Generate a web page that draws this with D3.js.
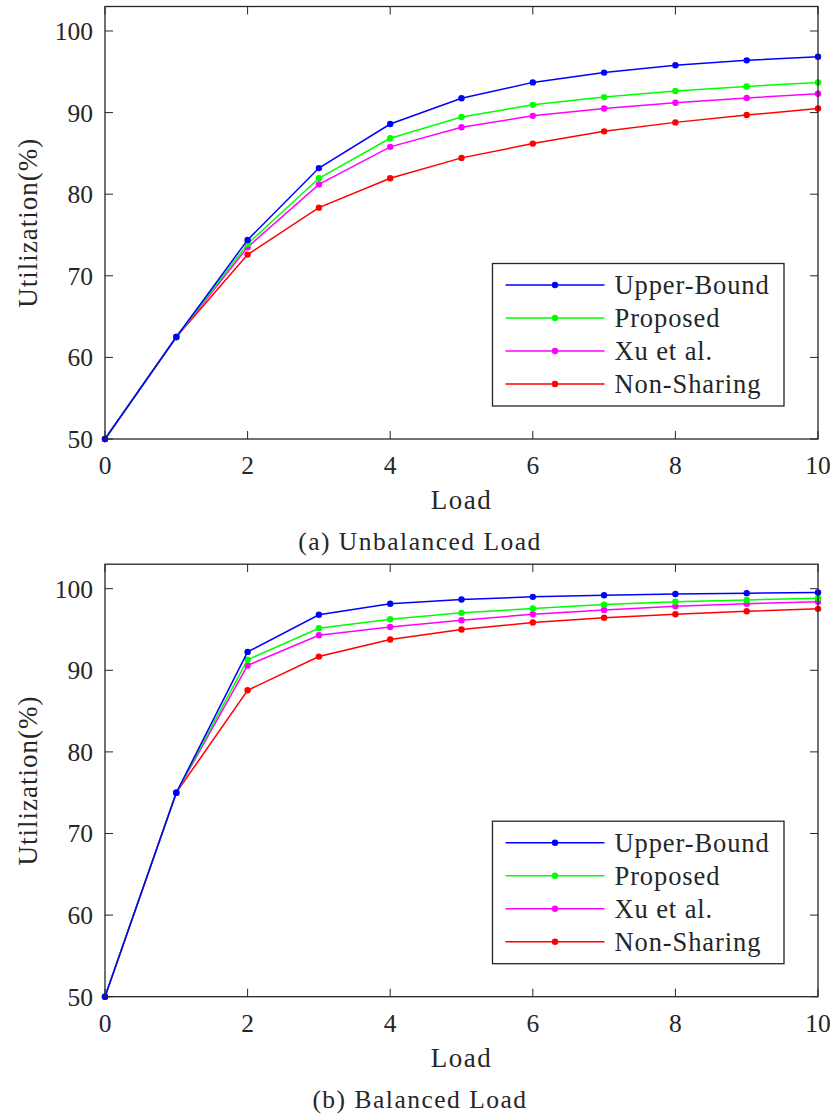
<!DOCTYPE html>
<html>
<head>
<meta charset="utf-8">
<script src="https://cdn.jsdelivr.net/npm/d3@7"></script>
<style>
  body { margin: 0; background: #fff; }
  svg text { font-family: "Liberation Serif", "DejaVu Serif"; fill: #262626; }
</style>
</head>
<body>
<svg id="chart" width="830" height="1118"></svg>
<script>
// load values on the x axis
var loads = [0, 1, 2, 3, 4, 5, 6, 7, 8, 9, 10];
var seriesNames = ['Upper-Bound', 'Proposed', 'Xu et al.', 'Non-Sharing'];
var seriesColors = ['#0000ff', '#00ff00', '#ff00ff', '#ff0000'];
var xTicks = [0, 2, 4, 6, 8, 10];
var yTicks = [50, 60, 70, 80, 90, 100];

// (a) unbalanced load
var unbalancedUpper    = [50, 62.5, 74.4, 83.2, 88.6, 91.75, 93.7, 94.9, 95.8, 96.4, 96.85];
var unbalancedProposed = [50, 62.5, 73.9, 81.95, 86.85, 89.45, 90.95, 91.9, 92.65, 93.2, 93.7];
var unbalancedXu       = [50, 62.5, 73.5, 81.2, 85.8, 88.2, 89.6, 90.5, 91.2, 91.8, 92.3];
var unbalancedNonShare = [50, 62.5, 72.6, 78.35, 81.95, 84.45, 86.2, 87.7, 88.8, 89.7, 90.5];

// (b) balanced load
var balancedUpper    = [50, 75, 92.25, 96.8, 98.15, 98.68, 99.0, 99.2, 99.35, 99.45, 99.53];
var balancedProposed = [50, 75, 91.3, 95.15, 96.25, 97.04, 97.57, 98.05, 98.4, 98.62, 98.82];
var balancedXu       = [50, 75, 90.6, 94.3, 95.3, 96.14, 96.87, 97.4, 97.85, 98.15, 98.4];
var balancedNonShare = [50, 75, 87.55, 91.68, 93.77, 95.0, 95.85, 96.43, 96.87, 97.24, 97.53];

var svg = d3.select('#chart');
var axisColor = '#262626';

var drawPanel = function(top, seriesList, caption) {
  var left = 105, right = 818, bottom = top + 432.5;
  var x = d3.scaleLinear().domain([0, 10]).range([left, right]);
  var y = d3.scaleLinear().domain([50, 103]).range([bottom, top]);
  var g = svg.append('g');
  var tickLen = 8;

  // ticks on all four sides, pointing inward
  xTicks.forEach(function(t) {
    g.append('line').attr('x1', x(t)).attr('x2', x(t)).attr('y1', bottom).attr('y2', bottom - tickLen)
      .attr('stroke', axisColor).attr('stroke-width', 1);
    g.append('line').attr('x1', x(t)).attr('x2', x(t)).attr('y1', top).attr('y2', top + tickLen)
      .attr('stroke', axisColor).attr('stroke-width', 1);
    g.append('text').attr('x', x(t)).attr('y', bottom + 35).attr('text-anchor', 'middle')
      .attr('font-size', 25.5).text(t);
  });
  yTicks.forEach(function(t) {
    g.append('line').attr('x1', left).attr('x2', left + tickLen).attr('y1', y(t)).attr('y2', y(t))
      .attr('stroke', axisColor).attr('stroke-width', 1);
    g.append('line').attr('x1', right).attr('x2', right - tickLen).attr('y1', y(t)).attr('y2', y(t))
      .attr('stroke', axisColor).attr('stroke-width', 1);
    g.append('text').attr('x', left - 12).attr('y', y(t) + 9).attr('text-anchor', 'end')
      .attr('font-size', 25.5).text(t);
  });

  var line = d3.line().x(function(d, i) { return x(loads[i]); }).y(function(d) { return y(d); });

  // draw back to front so blue ends up on top
  for (var s = seriesList.length - 1; s >= 0; s--) {
    g.append('path').datum(seriesList[s]).attr('d', line).attr('fill', 'none')
      .attr('stroke', seriesColors[s]).attr('stroke-width', 1.5);
    g.selectAll('circle.s' + s).data(seriesList[s]).enter().append('circle')
      .attr('cx', function(d, i) { return x(loads[i]); })
      .attr('cy', function(d) { return y(d); })
      .attr('r', 3.2).attr('fill', seriesColors[s]);
  }

  // box
  g.append('rect').attr('x', left).attr('y', top).attr('width', right - left).attr('height', bottom - top)
    .attr('fill', 'none').attr('stroke', axisColor).attr('stroke-width', 1.3);

  // legend
  var lgX = 492.5, lgY = bottom - 175.5, lgW = 291.5, lgH = 142.5;
  g.append('rect').attr('x', lgX).attr('y', lgY).attr('width', lgW).attr('height', lgH)
    .attr('fill', '#fff').attr('stroke', axisColor).attr('stroke-width', 1.3);
  seriesNames.forEach(function(name, i) {
    var ly = lgY + 21.5 + i * 33;
    g.append('line').attr('x1', lgX + 13).attr('x2', lgX + 112).attr('y1', ly).attr('y2', ly)
      .attr('stroke', seriesColors[i]).attr('stroke-width', 1.5);
    g.append('circle').attr('cx', lgX + 62.5).attr('cy', ly).attr('r', 3.2).attr('fill', seriesColors[i]);
    g.append('text').attr('x', lgX + 122).attr('y', ly + 9).attr('font-size', 26.5)
      .attr('letter-spacing', 0.9).text(name);
  });

  // axis labels and caption
  g.append('text').attr('x', (left + right) / 2).attr('y', bottom + 70).attr('text-anchor', 'middle')
    .attr('font-size', 27).attr('letter-spacing', 1.5).text('Load');
  g.append('text').attr('transform', 'translate(37,' + ((top + bottom) / 2) + ') rotate(-90)')
    .attr('text-anchor', 'middle').attr('font-size', 27).attr('letter-spacing', 1).text('Utilization(%)');
  g.append('text').attr('x', 420).attr('y', bottom + 111).attr('text-anchor', 'middle')
    .attr('font-size', 25.5).attr('letter-spacing', 1.5).text(caption);
};

drawPanel(6.5, [unbalancedUpper, unbalancedProposed, unbalancedXu, unbalancedNonShare], '(a) Unbalanced Load');
drawPanel(564.2, [balancedUpper, balancedProposed, balancedXu, balancedNonShare], '(b) Balanced Load');
</script>
</body>
</html>
